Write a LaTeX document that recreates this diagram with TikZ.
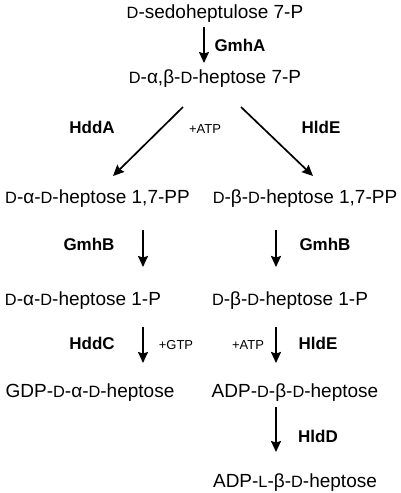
\documentclass[tikz,border=0pt]{standalone}
\usepackage{fontspec}
\setmainfont{Liberation Sans}
\usetikzlibrary{arrows.meta}
\tikzset{
   main node/.style={anchor=base,inner sep=0pt,font=\fontsize{19}{22}\selectfont},
   enzyme node/.style={main node,font=\fontsize{17}{20}\selectfont\bfseries},
   cofactor node/.style={main node,font=\fontsize{13}{15}\selectfont}
}
\newcommand{\cfg}[1]{\scalebox{0.86}{#1}}
\begin{document}
\begin{tikzpicture}[x=1pt,y=-1pt,
                    ->,>={Stealth[length=11pt,width=10pt,inset=1.5pt]},
                    line width=1.7pt]
\useasboundingbox (0,0) rectangle (400,493);
\node[main node] (sedo)  at (215,18)  {\cfg{D}-sedoheptulose 7-P};
\node[main node] (hept7) at (215,83)  {\cfg{D}-α,β-\cfg{D}-heptose 7-P};
\node[main node] (aPP)   at (97.5,203) {\cfg{D}-α-\cfg{D}-heptose 1,7-PP};
\node[main node] (bPP)   at (305,203) {\cfg{D}-β-\cfg{D}-heptose 1,7-PP};
\node[main node] (aP)    at (83,305)  {\cfg{D}-α-\cfg{D}-heptose 1-P};
\node[main node] (bP)    at (290,305) {\cfg{D}-β-\cfg{D}-heptose 1-P};
\node[main node] (gdp)   at (90,397)  {GDP-\cfg{D}-α-\cfg{D}-heptose};
\node[main node] (adpD)  at (295,397) {ADP-\cfg{D}-β-\cfg{D}-heptose};
\node[main node] (adpL)  at (295,487) {ADP-\cfg{L}-β-\cfg{D}-heptose};
%
\node[enzyme node] (gmhA)  at (240,51)  {GmhA};
\node[enzyme node] (hddA)  at (92,133)  {HddA};
\node[cofactor node] (atp1) at (205,133) {+ATP};
\node[enzyme node] (hldE1) at (321,133) {HldE};
\node[enzyme node] (gmhB1) at (89,250)  {GmhB};
\node[enzyme node] (gmhB2) at (325,250) {GmhB};
\node[enzyme node] (hddC)  at (92,349)  {HddC};
\node[cofactor node] (gtp) at (176,349) {+GTP};
\node[cofactor node] (atp2) at (248,349) {+ATP};
\node[enzyme node] (hldE2) at (318,349) {HldE};
\node[enzyme node] (hldD)  at (318,442) {HldD};
%
\draw ([xshift=-11pt,yshift=-9pt]sedo.base) -- ([xshift=-11pt,yshift=20pt]hept7.base);
\draw ([xshift=-32pt,yshift=-24pt]hept7.base) -- ([xshift=15.5pt,yshift=27pt]aPP.base);
\draw ([xshift=26pt,yshift=-24pt]hept7.base) -- ([xshift=8pt,yshift=27pt]bPP.base);
\draw ([xshift=45.5pt,yshift=-27pt]aPP.base) -- ([xshift=60pt,yshift=38pt]aP.base);
\draw ([xshift=-29pt,yshift=-27pt]bPP.base) -- ([xshift=-14pt,yshift=38pt]bP.base);
\draw ([xshift=60pt,yshift=-22pt]aP.base) -- ([xshift=53pt,yshift=34pt]gdp.base);
\draw ([xshift=-14pt,yshift=-22pt]bP.base) -- ([xshift=-19pt,yshift=34pt]adpD.base);
\draw ([xshift=-19pt,yshift=-10pt]adpD.base) -- ([xshift=-19pt,yshift=35pt]adpL.base);
\end{tikzpicture}
\end{document}
